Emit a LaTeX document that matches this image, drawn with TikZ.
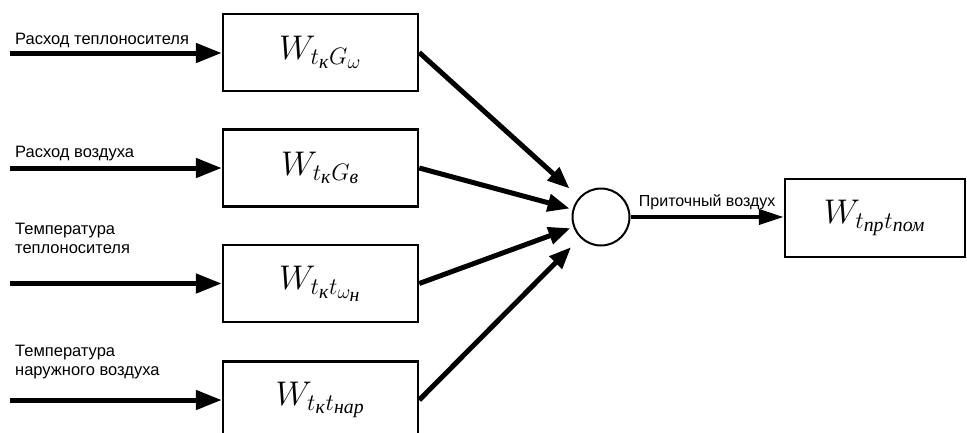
\documentclass[tikz,border=0pt]{standalone}
\usepackage{amsmath}
\usepackage{graphicx}
\usepackage{fontspec}
\setmainfont{Liberation Sans}
\newfontfamily\cyrserif{Liberation Serif}
\usetikzlibrary{arrows.meta,calc}
\newcommand{\ci}[1]{\text{\cyrserif\itshape #1}}
\newcommand{\bigw}[1]{\scalebox{1.65}{\fontsize{20.74}{24}\selectfont$#1$}}
\begin{document}
\begin{tikzpicture}[x=1pt,y=-1pt,
  blk/.style={draw, line width=2.5pt, minimum width=195pt, minimum height=77pt, inner sep=0pt},
  inarr/.style={line width=5pt, -{Triangle[length=26pt,width=19pt]}},
  darr/.style={line width=5pt, -{Triangle[length=22pt,width=17pt]}},
  outarr/.style={line width=4pt, -{Triangle[length=25pt,width=15pt]}},
  lbl/.style={anchor=base west, inner sep=0pt, font=\fontsize{16.5}{19}\selectfont, align=left},
  sumc/.style={draw, circle, line width=2pt, minimum size=57pt, inner sep=0pt}]
\useasboundingbox (0,0) rectangle (967,432);
\clip (0,0) rectangle (967,432);

\node[blk] (b1) at (320.5,52.5) {\bigw{W_{t_{\ci{к}}G_{\omega}}}};
\node[blk] (b2) at (320.5,168) {\bigw{W_{t_{\ci{к}}G_{\ci{в}}}}};
\node[blk] (b3) at (320.5,283.5) {\bigw{W_{t_{\ci{к}}t_{\omega_{\ci{н}}}}}};
\node[blk] (b4) at (320.5,400) {\bigw{W_{t_{\ci{к}}t_{\ci{нар}}}}};
\node[sumc] (sum) at (601,217) {};
\node[blk, minimum width=180pt, minimum height=78pt] (out) at (875,218) {\bigw{W_{t_{\ci{пр}}t_{\ci{пом}}}}};

\coordinate (in1) at (10,53);
\coordinate (in2) at (10,168);
\coordinate (in3) at (10,283.5);
\coordinate (in4) at (10,400);

\draw[inarr] (in1) -- (in1 -| b1.west);
\draw[inarr] (in2) -- (in2 -| b2.west);
\draw[inarr] (in3) -- (in3 -| b3.west);
\draw[inarr] (in4) -- (in4 -| b4.west);

\node[lbl] (l1) at (15,44) {Расход теплоносителя};
\node[lbl] (l2) at (15,157) {Расход воздуха};
\node[lbl] (l3) at (15,253) {Температура\\теплоносителя};
\node[lbl] (l4) at (15,375) {Температура\\наружного воздуха};

\draw[darr, shorten >=13pt] (b1.east) -- (sum);
\draw[darr, shorten >=3pt] (b2.east) -- (sum);
\draw[darr, shorten >=3pt] (b3.east) -- (sum);
\draw[darr, shorten >=13pt] (b4.east) -- (sum);

\draw[outarr] (sum.east) -- (sum.east -| out.west) node[pos=0.5, above=5pt, inner sep=0pt, font=\fontsize{16}{19}\selectfont] (lo) {Приточный воздух};
\end{tikzpicture}
\end{document}
